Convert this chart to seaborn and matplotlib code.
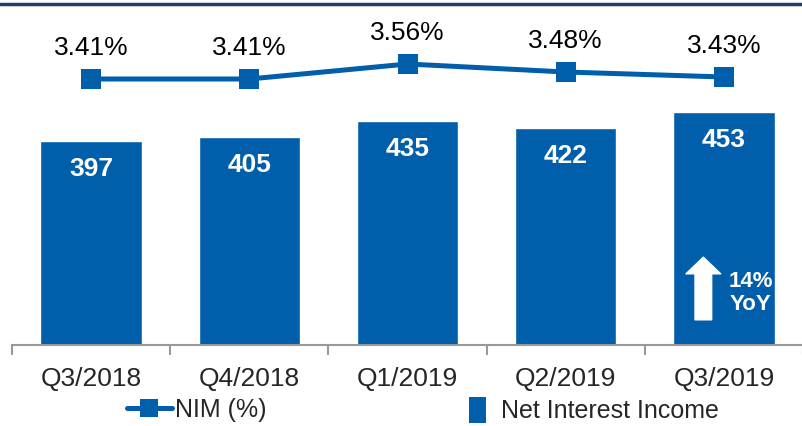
import matplotlib
matplotlib.use('Agg')
import matplotlib.pyplot as plt
import seaborn as sns
import numpy as np
import pandas as pd
from matplotlib.lines import Line2D
from matplotlib.patches import Patch

quarters = ['Q3/2018', 'Q4/2018', 'Q1/2019', 'Q2/2019', 'Q3/2019']
nii = [397, 405, 435, 422, 453]
nim = [3.41, 3.41, 3.56, 3.48, 3.43]
nim_labels = ['3.41%', '3.41%', '3.56%', '3.48%', '3.43%']
yoy_label = '14%\nYoY'

blue = '#005EAA'
navy = '#1C3D6E'

sns.set_style('white')
plt.rcParams['font.family'] = ['Liberation Sans', 'DejaVu Sans']

df = pd.DataFrame({'quarter': quarters, 'nii': nii, 'nim': nim})

fig = plt.figure(figsize=(8.02, 4.26), dpi=100)
ax = fig.add_axes([12 / 802, 81 / 426, 791 / 802, 335 / 426])

sns.barplot(data=df, x='quarter', y='nii', color=blue, width=0.64,
            saturation=1, ax=ax)
ax.set_xlim(-0.5, 4.5)
ax.set_ylim(0, 652)
ax.set_xlabel('')
ax.set_ylabel('')
ax.set_yticks([])

# ticks at category boundaries, labels centred
ax.set_xticks(np.arange(-0.5, 5, 1))
ax.set_xticklabels([])
ax.set_xticks(np.arange(5), minor=True)
ax.set_xticklabels(quarters, minor=True, fontsize=19)
ax.tick_params(axis='x', which='major', length=7, width=1.5, color='#999999',
               direction='out', bottom=True)
ax.tick_params(axis='x', which='minor', length=0, pad=16)
for s in ['top', 'left', 'right']:
    ax.spines[s].set_visible(False)
ax.spines['bottom'].set_color('#999999')
ax.spines['bottom'].set_linewidth(1.5)

for i, v in enumerate(nii):
    ax.annotate(str(v), (i, v), xytext=(0, -20), textcoords='offset points',
                ha='center', va='center', color='white', fontsize=19,
                fontweight='bold')

# 14% YoY arrow on last bar
ax.annotate('', xy=(3.87, 171), xytext=(3.87, 49),
            arrowprops=dict(arrowstyle='simple,head_width=1.25,head_length=0.6,tail_width=0.6',
                            mutation_scale=20, color='white', shrinkA=0, shrinkB=0))
ax.text(4.17, 101, yoy_label, ha='center', va='center', color='white',
        fontsize=16, fontweight='bold', linespacing=1.15)

# NIM line on secondary axis
ax2 = ax.twinx()
sns.lineplot(x=np.arange(5), y=nim, color=blue, linewidth=3.6, marker='s',
             markersize=14, markeredgewidth=0, ax=ax2)
ax2.set_ylim(0.75, 4.10)
ax2.set_yticks([])
for s in ['top', 'left', 'right', 'bottom']:
    ax2.spines[s].set_visible(False)
for i, (v, lab) in enumerate(zip(nim, nim_labels)):
    ax2.annotate(lab, (i, v), xytext=(0, 22), textcoords='offset points',
                 ha='center', va='center', fontsize=19, color='black')

# legends
h1 = Line2D([0], [0], color=blue, lw=3.6, marker='s', markersize=13,
            markeredgewidth=0)
fig.legend(handles=[h1], labels=['NIM (%)'], loc='center left',
           bbox_to_anchor=(104 / 802, 1 - 410 / 426), frameon=False,
           fontsize=18, handlelength=1.8, handletextpad=0.15)
h2 = Patch(facecolor=blue, edgecolor='none')
fig.legend(handles=[h2], labels=['Net Interest Income'], loc='center left',
           bbox_to_anchor=(446 / 802, 1 - 410 / 426), frameon=False,
           fontsize=18, handlelength=0.7, handleheight=1.2, handletextpad=0.6)

# navy rule across the top
fig.add_artist(Line2D([0, 1], [1 - 4 / 426, 1 - 4 / 426], color=navy, lw=2.5,
                      transform=fig.transFigure))

fig.savefig('out.png', dpi=100)
